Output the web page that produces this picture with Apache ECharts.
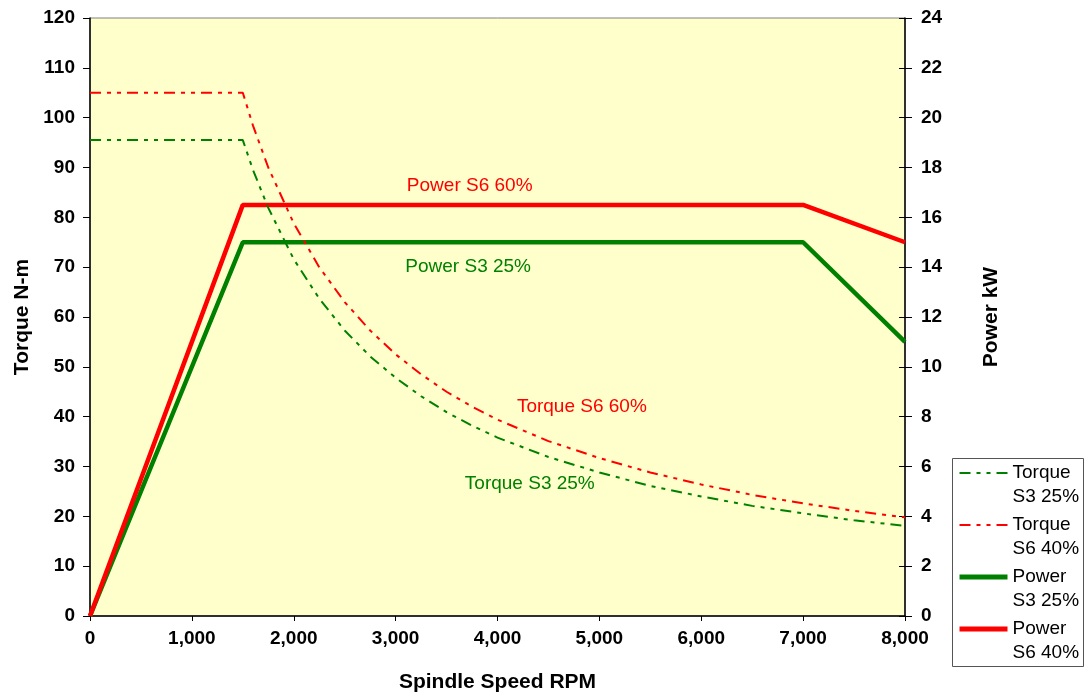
<!DOCTYPE html>
<html>
<head>
<meta charset="utf-8">
<script src="https://cdn.jsdelivr.net/npm/echarts@6/dist/echarts.min.js"></script>
<style>
html,body{margin:0;padding:0;background:#fff;}
#chart{width:1092px;height:698px;}
</style>
</head>
<body>
<div id="chart"></div>
<script>
// Spindle speed samples (RPM) for torque curves
const torqueRpm = [0, 1500, 1600, 1750, 2000, 2250, 2500, 2750, 3000, 3250, 3500, 3750, 4000, 4500, 5000, 5500, 6000, 6500, 7000, 7500, 8000];
const torqueS3 = [95.5, 95.5, 89.5, 81.9, 71.6, 63.7, 57.3, 52.1, 47.8, 44.1, 40.9, 38.2, 35.8, 31.9, 28.8, 26.1, 24.0, 22.1, 20.6, 19.2, 18.1];
const torqueS6 = [105, 105, 98.4, 90.0, 78.8, 70.0, 63.0, 57.3, 52.5, 48.5, 45.0, 42.0, 39.4, 35.1, 31.7, 28.8, 26.4, 24.3, 22.6, 21.1, 19.8];
// Power curves (kW)
const powerRpm = [0, 1500, 7000, 8000];
const powerS3 = [0, 15, 15, 11];
const powerS6 = [0, 16.5, 16.5, 15];
// Axis ticks
const xTicks = [0, 1000, 2000, 3000, 4000, 5000, 6000, 7000, 8000];
const torqueTicks = [0, 10, 20, 30, 40, 50, 60, 70, 80, 90, 100, 110, 120];
const powerTicks = [0, 2, 4, 6, 8, 10, 12, 14, 16, 18, 20, 22, 24];
// Series names
const names = ['Torque S3 25%', 'Torque S6 40%', 'Power S3 25%', 'Power S6 40%'];
// In-chart annotations: [text, rpm, value]
const annTorqueS3 = ['Torque S3 25%', 4317, 26.5];
const annTorqueS6 = ['Torque S6 60%', 4828, 41.9];
const annPowerS3 = ['Power S3 25%', 3712, 14.0];
const annPowerS6 = ['Power S6 60%', 3727, 17.26];

const GREEN = '#008000', RED = '#FF0000';
const FONT = 'Arial, "Liberation Sans", sans-serif';
const dashPattern = [11, 6, 4, 6, 4, 6];

function pairs(xs, ys) { return xs.map((x, i) => [x, ys[i]]); }
function ann(a, color) {
  return {
    symbolSize: 0,
    silent: true,
    label: { show: true, position: 'inside', color: color, fontSize: 19, fontFamily: FONT },
    data: [{ coord: [a[1], a[2]], label: { formatter: a[0] } }]
  };
}

const chart = echarts.init(document.getElementById('chart'));
const axisLabelStyle = { fontSize: 19, fontWeight: 'bold', color: '#000', fontFamily: FONT };
const nameStyle = { fontSize: 21, fontWeight: 'bold', color: '#000', fontFamily: FONT };

chart.setOption({
  animation: false,
  textStyle: { fontFamily: FONT },
  grid: {
    left: 90, right: 187, top: 18, bottom: 82,
    show: true, backgroundColor: '#FFFFCC', borderColor: '#808080', borderWidth: 1
  },
  graphic: [{
    type: 'rect', left: 952, top: 458, z: 0,
    shape: { width: 131, height: 208 },
    style: { fill: '#fff', stroke: '#555', lineWidth: 1 }
  }],
  legend: {
    orient: 'vertical',
    left: 957, top: 437,
    padding: 0,
    itemGap: -20,
    itemWidth: 48, itemHeight: 14,
    itemStyle: { opacity: 0 },
    textStyle: { fontSize: 19, color: '#000', fontFamily: FONT, lineHeight: 24 },
    formatter: n => '\n' + n.replace(' ', '\n'),
    data: [
      { name: names[0], lineStyle: { width: 2 } },
      { name: names[1], lineStyle: { width: 2 } },
      { name: names[2], lineStyle: { width: 5 } },
      { name: names[3], lineStyle: { width: 5 } }
    ]
  },
  xAxis: {
    type: 'value', min: xTicks[0], max: xTicks[xTicks.length - 1], interval: xTicks[1] - xTicks[0],
    name: 'Spindle Speed RPM', nameLocation: 'middle', nameGap: 56, nameTextStyle: nameStyle,
    axisLine: { show: true, lineStyle: { color: '#000', width: 1.5 } },
    axisTick: { show: true, length: 5, lineStyle: { color: '#000' } },
    axisLabel: Object.assign({ margin: 13, formatter: v => v.toLocaleString('en-US') }, axisLabelStyle),
    splitLine: { show: false }
  },
  yAxis: [
    {
      type: 'value', position: 'left', min: torqueTicks[0], max: torqueTicks[torqueTicks.length - 1],
      interval: torqueTicks[1] - torqueTicks[0],
      name: 'Torque N-m', nameLocation: 'middle', nameGap: 57, nameTextStyle: nameStyle,
      axisLine: { show: true, lineStyle: { color: '#000', width: 1.5 } },
      axisTick: { show: true, length: 7, lineStyle: { color: '#000' } },
      axisLabel: Object.assign({ margin: 15 }, axisLabelStyle),
      splitLine: { show: false }
    },
    {
      type: 'value', position: 'right', min: powerTicks[0], max: powerTicks[powerTicks.length - 1],
      interval: powerTicks[1] - powerTicks[0],
      name: 'Power kW', nameLocation: 'middle', nameGap: 76, nameTextStyle: nameStyle,
      axisLine: { show: true, lineStyle: { color: '#000', width: 1.5 } },
      axisTick: { show: true, length: 7, lineStyle: { color: '#000' } },
      axisLabel: Object.assign({ margin: 16 }, axisLabelStyle),
      splitLine: { show: false }
    },
    {
      type: 'value', position: 'right', min: powerTicks[0], max: powerTicks[powerTicks.length - 1],
      interval: powerTicks[1] - powerTicks[0],
      axisLine: { show: false },
      axisTick: { show: true, inside: true, length: 6, lineStyle: { color: '#000' } },
      axisLabel: { show: false },
      splitLine: { show: false }
    }
  ],
  series: [
    {
      name: names[0], type: 'line', yAxisIndex: 0, symbol: 'none', color: GREEN,
      lineStyle: { color: GREEN, width: 2, type: dashPattern },
      data: pairs(torqueRpm, torqueS3), markPoint: ann(annTorqueS3, GREEN), z: 3
    },
    {
      name: names[1], type: 'line', yAxisIndex: 0, symbol: 'none', color: RED,
      lineStyle: { color: RED, width: 2, type: dashPattern },
      data: pairs(torqueRpm, torqueS6), markPoint: ann(annTorqueS6, RED), z: 3
    },
    {
      name: names[2], type: 'line', yAxisIndex: 1, symbol: 'none', color: GREEN,
      lineStyle: { color: GREEN, width: 4.5 },
      data: pairs(powerRpm, powerS3), markPoint: ann(annPowerS3, GREEN), z: 2
    },
    {
      name: names[3], type: 'line', yAxisIndex: 1, symbol: 'none', color: RED,
      lineStyle: { color: RED, width: 4.5 },
      data: pairs(powerRpm, powerS6), markPoint: ann(annPowerS6, RED), z: 2
    }
  ]
});
</script>
</body>
</html>
